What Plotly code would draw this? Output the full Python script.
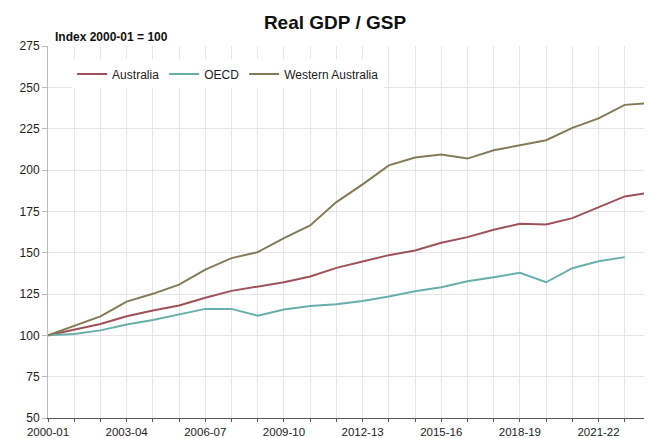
import plotly.graph_objects as go

years = ["2000-01","2001-02","2002-03","2003-04","2004-05","2005-06","2006-07","2007-08",
         "2008-09","2009-10","2010-11","2011-12","2012-13","2013-14","2014-15","2015-16",
         "2016-17","2017-18","2018-19","2019-20","2020-21","2021-22","2022-23","2023-24"]

australia = [100, 103.3, 106.9, 111.5, 115.0, 118.0, 122.7, 126.9, 129.4, 132.1, 135.6, 140.8,
             144.7, 148.5, 151.3, 156.0, 159.4, 163.9, 167.5, 167.1, 170.9, 177.6, 184.0, 186.5]
oecd = [100, 100.8, 103.0, 106.5, 109.3, 112.7, 116.0, 116.0, 111.9, 115.6, 117.8, 118.8,
        120.8, 123.5, 126.7, 129.1, 132.7, 135.2, 137.8, 132.1, 140.6, 144.8, 147.3, None]
western_australia = [100, 105.9, 111.5, 120.4, 125.1, 130.7, 139.8, 146.7, 150.3, 158.8, 166.5, 180.6,
                     191.3, 202.8, 207.5, 209.3, 206.9, 211.9, 215.0, 218.0, 225.5, 231.2, 239.4, 240.6]

tick_text = [y if i % 3 == 0 else "" for i, y in enumerate(years)]

fig = go.Figure()
series = [("Australia", australia, "#9E5257"),
          ("OECD", oecd, "#68AFAC"),
          ("Western Australia", western_australia, "#857A58")]
for name, vals, col in series:
    fig.add_trace(go.Scatter(x=years, y=vals, mode="lines", name=name,
                             line=dict(color=col, width=2)))

# page body has an 8px margin, so the figure is sized to fit the 652x438 window
fig.update_layout(
    width=644, height=430,
    margin=dict(l=40, r=1, t=38, b=20),
    paper_bgcolor="white", plot_bgcolor="white",
    font=dict(family="Liberation Sans, Arial, sans-serif", size=12, color="#222222"),
    title=dict(text="<b>Real GDP / GSP</b>", x=327 / 644, xanchor="center",
               yref="container", y=1 - 14 / 430, yanchor="middle",
               font=dict(size=19, color="#111111")),
    showlegend=True,
    legend=dict(orientation="h", x=0.04, xanchor="left", y=0.925, yanchor="middle",
                bgcolor="white", font=dict(size=12, color="#222222"),
                itemwidth=30, tracegroupgap=0),
    annotations=[dict(text="<b>Index 2000-01 = 100</b>", xref="paper", yref="paper",
                      x=0.008, y=1.0, xanchor="left", yanchor="bottom", showarrow=False,
                      font=dict(size=12, color="#111111"))],
)
fig.update_xaxes(type="category", categoryorder="array", categoryarray=years,
                 tickmode="array", tickvals=years, ticktext=tick_text, tickangle=0,
                 range=[0, len(years) - 1], automargin=False,
                 showgrid=True, gridcolor="#E6E6E6", gridwidth=1,
                 showline=True, linecolor="#555555", linewidth=1,
                 ticks="outside", ticklen=3, tickcolor="#555555",
                 tickfont=dict(size=11.5, color="#222222"))
fig.update_yaxes(range=[50, 275], tickmode="linear", tick0=50, dtick=25, automargin=False,
                 showgrid=True, gridcolor="#E6E6E6", gridwidth=1,
                 showline=True, linecolor="#BBBBBB", linewidth=1,
                 ticks="outside", ticklen=5, tickcolor="#BBBBBB",
                 zeroline=False, tickfont=dict(size=12, color="#222222"))

fig.write_html("out.html")
